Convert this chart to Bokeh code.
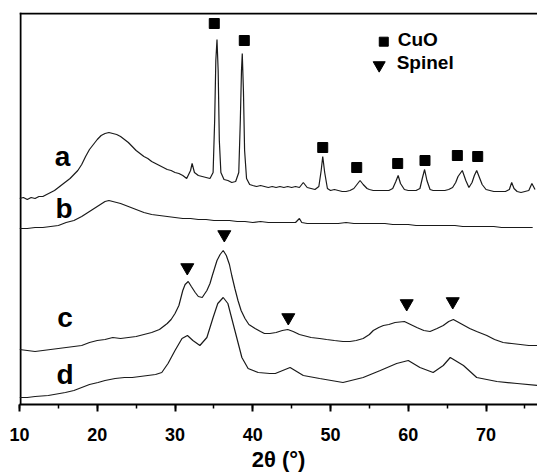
from bokeh.plotting import figure
from bokeh.models import Range1d, SingleIntervalTicker, Title
from bokeh.core.properties import value
from bokeh.embed import file_html
from bokeh.resources import INLINE

# ---- data (2theta in degrees, intensity in arbitrary units, offset traces) ----
a_x = [10, 10.5, 11, 11.5, 12, 12.5, 13, 13.5, 14, 14.5, 15, 15.5, 16, 16.5, 17, 17.5, 18, 18.5, 19, 19.5,
       20, 20.5, 21, 21.5, 22, 22.5, 23, 23.5, 24, 24.5, 25, 25.5, 26, 26.5, 27, 27.5, 28, 28.5, 29, 29.5,
       30, 30.5, 31, 31.5, 32, 32.2, 32.5, 33, 33.5, 34, 34.5, 34.9, 35.1, 35.25, 35.4, 35.55, 35.7, 35.9,
       36.3, 36.8, 37.3, 37.8, 38.2, 38.4, 38.55, 38.65, 38.8, 38.95, 39.2, 39.6, 40, 40.5, 41, 41.5, 42,
       42.5, 43, 43.5, 44, 44.5, 45, 45.5, 46, 46.5, 47, 47.5, 48, 48.5, 48.8, 49.0, 49.25, 49.6, 50, 50.5,
       51, 51.5, 52, 52.5, 53, 53.5, 53.8, 54.2, 54.7, 55, 55.5, 56, 56.5, 57, 57.5, 58, 58.4, 58.7, 59.0,
       59.5, 60, 60.5, 61, 61.5, 61.8, 62.1, 62.4, 62.8, 63.2, 63.7, 64.2, 64.7, 65.2, 65.7, 66.1, 66.4,
       66.95, 67.4, 67.8, 68.2, 68.5, 68.8, 69.1, 69.5, 70, 70.5, 71, 71.5, 72, 72.5, 73, 73.3, 73.6, 74,
       74.5, 75, 75.5, 75.9, 76.3]
a_y = [206, 207, 205, 207, 206, 208, 208, 210, 212, 214, 217, 220, 223, 226, 230, 234, 240, 248, 255, 260,
       265, 269, 271, 272, 271, 270, 268, 265, 262, 258, 254, 251, 248, 246, 243, 241, 239, 237, 235, 234,
       232, 231, 229, 226, 234, 241, 232, 229, 228, 227, 226, 232, 284, 344, 365, 334, 264, 232,
       225, 224, 222, 223, 232, 284, 334, 351, 314, 254, 226, 220, 219, 218, 219, 218, 217,
       218, 217, 218, 217, 218, 217, 218, 217, 222, 217, 216, 215, 218, 234, 248, 232, 216, 214, 215,
       214, 213, 213, 214, 216, 221, 224, 220, 216, 215, 214, 214, 214, 214, 214, 216, 223, 229, 221,
       215, 214, 214, 214, 216, 226, 235, 224, 215, 214, 214, 214, 214, 215, 217, 222, 228,
       234, 224, 217, 222, 229, 234, 228, 220, 215, 214, 213, 213, 213, 213, 215, 222, 216, 213,
       212, 213, 214, 221, 215]

b_x = [10, 11, 12, 13, 14, 15, 16, 17, 18, 19, 20, 21, 21.5, 22, 23, 24, 25, 26, 27, 28, 29, 30, 31, 32,
       33, 34, 35, 36, 37, 38, 39, 40, 41, 42, 43, 44, 45, 45.5, 46, 46.3, 47, 48, 49, 50, 51, 52, 53, 54,
       55, 56, 57, 58, 59, 60, 61, 62, 63, 64, 65, 66, 67, 68, 69, 70, 71, 72, 73, 74, 75, 76]
b_y = [176, 176, 177, 177, 178, 179, 182, 184, 188, 193, 198, 203, 204, 203, 201, 198, 195, 192, 190, 189,
       188, 187, 186, 186, 185, 185, 184, 184, 184, 183, 183, 182, 183, 182, 182, 182, 182, 182, 186, 182,
       181, 181, 181, 181, 181, 182, 181, 181, 181, 181, 181, 180, 180, 180, 179, 179, 179, 179, 179, 179,
       178, 178, 178, 178, 178, 177, 177, 177, 177, 177]

c_x = [10, 11, 12, 13, 14, 15, 16, 17, 18, 19, 20, 21, 22, 23, 24, 25, 26, 27, 28, 28.5, 29, 29.5, 30,
       30.5, 31, 31.3, 31.7, 32.1, 32.6, 33.0, 33.5, 34.1, 34.5, 34.8, 35.4, 35.8, 36.2, 36.6, 37.0, 37.3,
       37.7, 38.1, 38.5, 39.0, 39.5, 40.3, 41, 41.5, 42.2, 43, 43.8, 44.5, 45.2, 46, 46.5, 47.5, 48.6,
       49.5, 50.5, 51.6, 52.5, 53.3, 54.2, 55, 55.5, 56.2, 56.8, 57.5, 58.3, 59.5, 60.3, 61.1, 62, 62.8,
       63.7, 64.5, 65.2, 65.8, 66.5, 67.2, 67.9, 68.8, 70.1, 71.1, 72.2, 73.3, 74.4, 75.5, 76.6]
c_y = [55, 54, 53, 54, 55, 56, 57, 58, 59, 62, 64, 65, 67, 66, 67, 68, 70, 72, 75, 78, 81, 85, 91,
       99, 114, 120, 123, 118, 112, 108, 107, 114, 121, 129, 144, 150, 154, 149, 140, 129,
       116, 104, 94, 86, 80, 76, 73, 71, 71, 72, 74, 75, 73, 70, 69, 67, 66,
       65, 64, 63, 63, 64, 66, 70, 74, 77, 79, 80, 82, 83, 80, 77, 74, 73,
       76, 79, 83, 85, 82, 79, 76, 73, 69, 65, 62, 61, 60, 59, 59]

d_x = [10, 11, 12, 13.7, 15.9, 17, 18.0, 19, 20.1, 21, 22.3, 23.5, 24.5, 25.5, 26.5, 27.5, 28.3, 29.1,
       30.0, 30.9, 31.6, 32.3, 33.2, 34.1, 34.9, 35.5, 36.2, 36.8, 37.7, 38.6, 39.4, 40.7, 42.2, 42.9,
       44.8, 46.5, 48.6, 51.6, 54.2, 56.4, 58.5, 60.0, 61.5, 63.2, 64.5, 65.4, 67.1, 68.8, 71.4, 74.0, 76.6]
d_y = [7, 7, 8, 9, 12, 14, 17, 20, 22, 24, 26, 27, 27, 28, 29, 30, 32, 41,
       54, 66, 69, 64, 59, 67, 87, 101, 107, 101, 74, 47, 36, 32, 31, 31,
       37, 29, 26, 22, 27, 34, 41, 44, 37, 32, 39, 47, 39, 27, 23, 21, 19]

cuo_x = [35.05, 38.91, 49.0, 53.37, 58.64, 62.15, 66.31, 68.93]
cuo_y = [381, 364, 257, 237, 241, 244, 249, 248]

spinel_x = [31.58, 36.34, 44.57, 59.80, 65.72]
spinel_y = [137, 170, 87, 101, 103]

trace_names = ["a", "b", "c", "d"]
trace_label_x = [15.53, 15.72, 15.85, 15.85]
trace_label_y = [248, 196, 87, 30]

legend_names = ["CuO", "Spinel"]
legend_marker_x = [56.85, 56.26]
legend_marker_y = [362.8, 339.3]
legend_text_x = [58.64, 58.51]
legend_text_y = [365, 342]

x_min, x_max = 10, 76.62
y_min, y_max = 0, 392
x_ticks_interval = 10
x_label = "2\u03b8 (\u00b0)"

FONT = "Liberation Sans"

p = figure(frame_width=518, frame_height=392, output_backend="svg", toolbar_location=None,
           x_range=Range1d(x_min, x_max), y_range=Range1d(y_min, y_max), y_axis_location=None,
           min_border_left=19, min_border_right=0, min_border_top=12, min_border_bottom=0)
p.outline_line_color = None
p.grid.visible = False

# bottom axis
xa = p.xaxis[0]
xa.ticker = SingleIntervalTicker(interval=x_ticks_interval, num_minor_ticks=2)
xa.axis_line_width = 2
xa.axis_line_color = "black"
xa.major_tick_line_width = 2
xa.minor_tick_line_width = 1.5
xa.major_tick_in = 0
xa.major_tick_out = 7
xa.minor_tick_in = 0
xa.minor_tick_out = 4
xa.major_label_text_font = FONT
xa.major_label_text_font_style = "bold"
xa.major_label_text_font_size = "18px"
xa.major_label_text_color = "black"
xa.major_label_standoff = 16

# axis title placed below the axis
p.add_layout(Title(text=x_label, align="center", offset=-20, text_font=FONT,
                   text_font_style="bold", text_font_size="22px", text_color="black",
                   standoff=2), "below")

# left and top frame borders as thin filled bars inside the frame edge
px_x = (x_max - x_min) / 518.0
px_y = (y_max - y_min) / 392.0
p.quad(left=[x_min, x_min], right=[x_min + 2 * px_x, x_max],
       bottom=[y_min, y_max - 2 * px_y], top=[y_max, y_max],
       fill_color="black", line_color=None)

lc = "#1a1a1a"
for xs, ys in [(a_x, a_y), (b_x, b_y), (c_x, c_y), (d_x, d_y)]:
    p.line(xs, ys, line_color=lc, line_width=1.2)

p.scatter(cuo_x, cuo_y, marker="square", size=10, color="black")
p.scatter(spinel_x, spinel_y, marker="inverted_triangle", size=13, color="black")

# legend symbols and text
p.scatter([legend_marker_x[0]], [legend_marker_y[0]], marker="square", size=9, color="black")
p.scatter([legend_marker_x[1]], [legend_marker_y[1]], marker="inverted_triangle", size=12, color="black")
p.text(legend_text_x, legend_text_y, text=legend_names, text_font=value(FONT),
       text_font_style="bold", text_font_size="19px", text_align="left",
       text_baseline="middle", text_color="black")

# trace labels
p.text(trace_label_x, trace_label_y, text=trace_names, text_font=value(FONT),
       text_font_style="bold", text_font_size="28px", text_align="center",
       text_baseline="alphabetic", text_color="black")

open("out.html", "w").write(file_html(p, INLINE))
